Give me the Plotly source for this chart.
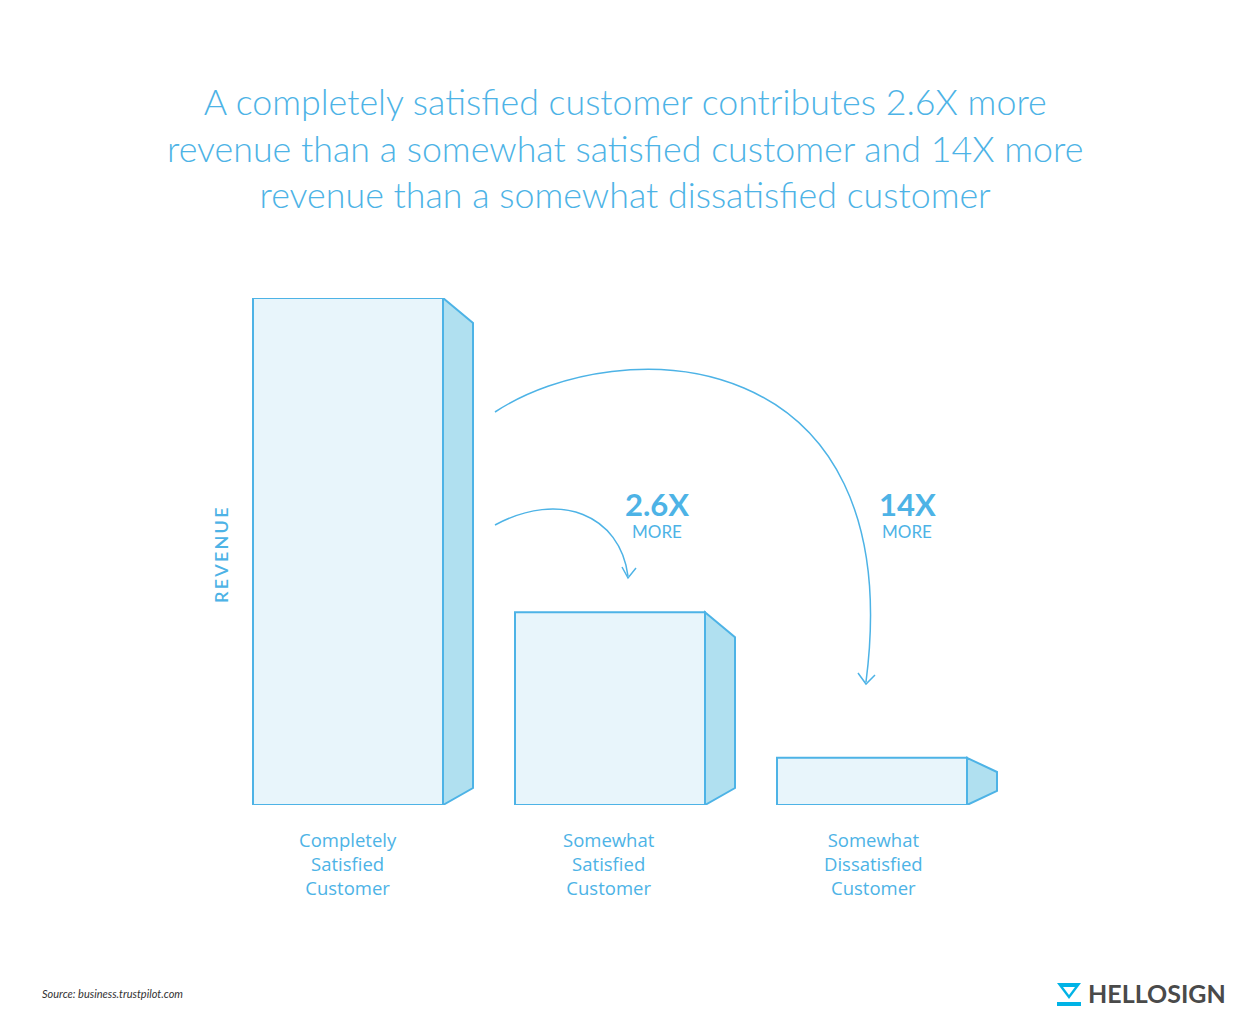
import plotly.graph_objects as go

categories = ["Completely<br>Satisfied<br>Customer", "Somewhat<br>Satisfied<br>Customer", "Somewhat<br>Dissatisfied<br>Customer"]
revenue = [100, 38, 9.3]
multipliers = ["2.6X", "14X"]

BLUE = "#4db3e6"
W, H = 1251, 1034
OFF = 8                      # page offset observed in render
L0, SC = 348, 262.0          # pixel of x=0, px per x unit
YT, YB = 298, 805            # plot top/bottom pixels (y=0..100)
PY = (YB - YT) / 100.0

def dx(px): return (px - L0) / SC
def dy(py): return (YB - py) / PY
def ppx(px): return (px - OFF) / W
def ppy(py): return (YB - py) / (YB - YT)

xs = [0, 1, 2]
fig = go.Figure(go.Bar(x=xs, y=revenue, width=190 / SC,
                       marker=dict(color="#e8f5fb", line=dict(color=BLUE, width=2)),
                       hoverinfo="skip"))
shapes = []
for x, v in zip(xs, revenue):
    h = v * PY
    top = min(25, 0.3 * h) / PY
    bot = min(17, 0.3 * h) / PY
    xr = x + 95 / SC
    xb = xr + 30 / SC
    shapes.append(dict(type="path", xref="x", yref="y",
                       path=f"M {xr},{v} L {xb},{v-top} L {xb},{bot} L {xr},0 Z",
                       fillcolor="#b0e0f0", line=dict(color=BLUE, width=2), layer="below"))

def P(px, py): return f"{dx(px)},{dy(py)}"
shapes.append(dict(type="path", xref="x", yref="y", line=dict(color=BLUE, width=1.5),
                   path=f"M {P(495,525)} C {P(560,490)} {P(620,515)} {P(628,576)}"))
shapes.append(dict(type="path", xref="x", yref="y", line=dict(color=BLUE, width=1.5),
                   path=f"M {P(622,567)} L {P(628,578)} L {P(636,568)}"))
shapes.append(dict(type="path", xref="x", yref="y", line=dict(color=BLUE, width=1.5),
                   path=f"M {P(495,412)} C {P(620,330)} {P(910,340)} {P(866,682)}"))
shapes.append(dict(type="path", xref="x", yref="y", line=dict(color=BLUE, width=1.5),
                   path=f"M {P(858,673)} L {P(866,684)} L {P(875,675)}"))

ann = []
for px, c in zip([348, 609, 873], categories):
    ann.append(dict(x=ppx(px), y=ppy(825), xref="paper", yref="paper", text=c, showarrow=False,
                    xanchor="center", yanchor="top",
                    font=dict(family="Open Sans", size=18.5, color=BLUE)))
for (px, m) in [(657, multipliers[0]), (907, multipliers[1])]:
    ann.append(dict(x=dx(px), y=dy(504), xref="x", yref="y", text=f"<b>{m}</b>", showarrow=False,
                    font=dict(family="Lato", size=31, color=BLUE)))
    ann.append(dict(x=dx(px), y=dy(531), xref="x", yref="y", text="MORE", showarrow=False,
                    font=dict(family="Lato", size=17, color=BLUE)))
ann.append(dict(x=dx(221), y=dy(555), xref="x", yref="y", text="R\u2009E\u2009V\u2009E\u2009N\u2009U\u2009E",
                textangle=-90, showarrow=False,
                font=dict(family="Lato", size=18, color=BLUE, weight=600)))
ann.append(dict(x=ppx(625), y=ppy(148), xref="paper", yref="paper", showarrow=False,
                xanchor="center", yanchor="middle",
                text="A completely satisfied customer contributes 2.6X more<br>revenue than a somewhat satisfied customer and 14X more<br>revenue than a somewhat dissatisfied customer",
                font=dict(family="Lato", size=35.8, color=BLUE, weight=300)))
ann.append(dict(x=ppx(40), y=ppy(993), xref="paper", yref="paper", showarrow=False,
                xanchor="left", yanchor="middle",
                text="<i>Source: business.trustpilot.com</i>", font=dict(family="Lato", size=11, color="#333")))
ann.append(dict(x=ppx(1228), y=ppy(993), xref="paper", yref="paper", showarrow=False,
                xanchor="right", yanchor="middle",
                text="<b>HELLOSIGN</b>", font=dict(family="Lato", size=25, color="#4a4a4a")))
def pp(px, py): return f"{ppx(px)},{ppy(py)}"
shapes.append(dict(type="path", xref="paper", yref="paper", fillcolor="#00b3e6", line=dict(width=0),
                   path=f"M {pp(1057,983)} L {pp(1081,983)} L {pp(1069,999)} Z"))
shapes.append(dict(type="rect", xref="paper", yref="paper", fillcolor="#00b3e6", line=dict(width=0),
                   x0=ppx(1057), x1=ppx(1081), y0=ppy(1006), y1=ppy(1002)))
shapes.append(dict(type="path", xref="paper", yref="paper", fillcolor="white", line=dict(width=0),
                   path=f"M {pp(1063,987)} L {pp(1075,987)} L {pp(1069,995)} Z"))

fig.update_layout(width=W, height=H, plot_bgcolor="white", paper_bgcolor="white",
                  margin=dict(l=0, r=0, t=YT - OFF, b=H - YB + OFF), showlegend=False,
                  xaxis=dict(range=[dx(OFF), dx(W + OFF)], visible=False),
                  yaxis=dict(range=[0, 100], visible=False),
                  shapes=shapes, annotations=ann)
fig.write_html("out.html")
